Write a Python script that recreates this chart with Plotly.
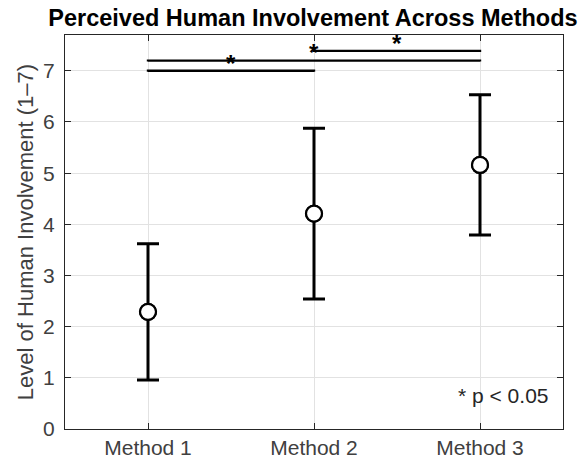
import plotly.graph_objects as go

methods = ["Method 1", "Method 2", "Method 3"]
x_pos = [1, 2, 3]
means = [2.29, 4.21, 5.16]
sds = [1.33, 1.67, 1.37]

# significance brackets: (start, end, height)
sig_start = [1, 1, 2]
sig_end = [2, 3, 3]
sig_y = [7.0, 7.2, 7.39]
star_offset = 0.15

FONT = "Liberation Sans"

fig = go.Figure()

fig.add_trace(go.Scatter(
    x=x_pos, y=means, mode="markers",
    marker=dict(symbol="circle", size=16, color="white",
                line=dict(color="black", width=2.2)),
    error_y=dict(type="data", array=sds, visible=True, color="black",
                 thickness=3, width=11),
    showlegend=False, hoverinfo="skip"))
fig.add_trace(go.Scatter(
    x=x_pos, y=means, mode="markers",
    marker=dict(symbol="circle", size=16, color="white",
                line=dict(color="black", width=2.2)),
    showlegend=False, hoverinfo="skip"))

for s, e, h in zip(sig_start, sig_end, sig_y):
    fig.add_trace(go.Scatter(
        x=[s, s, e, e], y=[h - 0.02, h, h, h - 0.02], mode="lines",
        line=dict(color="black", width=2.4),
        showlegend=False, hoverinfo="skip"))
    fig.add_annotation(x=(s + e) / 2, y=h + star_offset, text="<b>*</b>",
                       showarrow=False, yanchor="middle",
                       font=dict(size=24, color="black", family=FONT))

fig.add_annotation(x=3.43, y=0.66, text="* p < 0.05", showarrow=False,
                   xanchor="right", yanchor="middle",
                   font=dict(size=21, color="#262626", family=FONT))

axis_common = dict(showline=True, linecolor="#262626", linewidth=1, mirror="ticks",
                   ticks="inside", ticklen=6, tickcolor="#262626",
                   showgrid=True, gridcolor="#e2e2e2", gridwidth=1,
                   zeroline=False,
                   tickfont=dict(size=21, color="#404040", family=FONT))

fig.update_layout(
    width=585, height=462,
    margin=dict(l=65, r=22, t=35, b=33, autoexpand=False),
    paper_bgcolor="white", plot_bgcolor="white",
    title=dict(text="<b>Perceived Human Involvement Across Methods</b>",
               x=0.535, xanchor="center", y=0.962, yanchor="middle",
               font=dict(size=23.5, color="black", family=FONT)),
    xaxis=dict(range=[0.5, 3.5], tickvals=x_pos, ticktext=methods, **axis_common),
    yaxis=dict(range=[0, 7.7], tickvals=[0, 1, 2, 3, 4, 5, 6, 7],
               ticklabelstandoff=5,
               title=dict(text="Level of Human Involvement (1\u20137)", standoff=3,
                          font=dict(size=22, color="#404040", family=FONT)),
               **axis_common),
)

fig.write_html("out.html", config={"displayModeBar": False},
               post_script="document.body.style.margin='0';document.body.style.overflow='hidden';")
